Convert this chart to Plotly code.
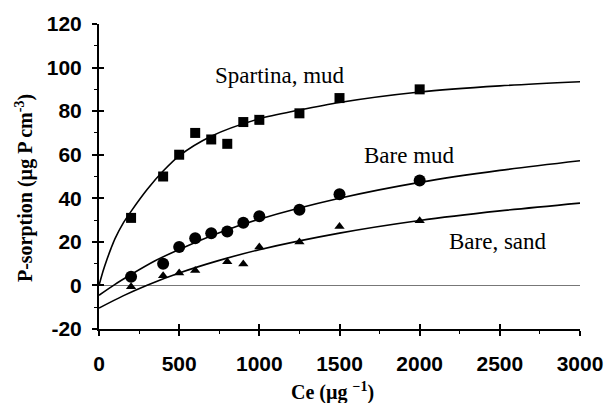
import plotly.graph_objects as go

# Measured points
ce_spartina = [200, 400, 500, 600, 700, 800, 900, 1000, 1250, 1500, 2000]
p_spartina = [31, 50, 60, 70, 67, 65, 75, 76, 79, 86, 90]

ce_baremud = [200, 400, 500, 600, 700, 800, 900, 1000, 1250, 1500, 2000]
p_baremud = [4, 10, 17.6, 21.7, 23.9, 24.8, 28.8, 31.8, 34.7, 41.9, 48.2]

ce_baresand = [200, 400, 500, 600, 800, 900, 1000, 1250, 1500, 2000]
p_baresand = [-0.6, 4.4, 5.7, 6.9, 10.9, 9.8, 17.6, 19.9, 27.1, 29.7]

# Fitted curves
fit_sp_x = [0, 25, 50, 75, 100, 150, 200, 300, 400, 500, 700, 1000, 1250, 1500, 2000, 2500, 3000]
fit_sp_y = [0, 6.5, 12, 17, 21.5, 28.5, 34, 44, 52.5, 59.5, 68.5, 76.5, 80.5, 84, 88.8, 91.6, 93.5]

fit_mud_x = [0, 100, 200, 350, 500, 750, 1000, 1500, 2000, 2500, 3000]
fit_mud_y = [-4.5, 0.5, 5.0, 11.3, 16.5, 24.2, 30.4, 40.0, 47.3, 52.8, 57.2]

fit_sand_x = [0, 150, 300, 500, 750, 1000, 1500, 2000, 2500, 3000]
fit_sand_y = [-10.4, -4.8, 0.1, 5.7, 11.5, 16.4, 24.0, 29.8, 34.2, 37.8]

# Tick labels
x_tickvals = [0, 500, 1000, 1500, 2000, 2500, 3000]
x_ticktext = ["0", "500", "1000", "1500", "2000", "2500", "3000"]
y_tickvals = [-20, 0, 20, 40, 60, 80, 100, 120]
y_ticktext = ["-20", "0", "20", "40", "60", "80", "100", "120"]

labels = ["Spartina, mud", "Bare mud", "Bare, sand"]
label_x = [1130, 1935, 2490]
label_y = [96.2, 59.7, 20.3]

x_range = [0, 3000]
y_range = [-20, 120]

fig = go.Figure()

line_style = dict(color="black", width=1.6, shape="spline", smoothing=0.8)
for fx, fy in [(fit_sp_x, fit_sp_y), (fit_mud_x, fit_mud_y), (fit_sand_x, fit_sand_y)]:
    fig.add_trace(go.Scatter(x=fx, y=fy, mode="lines", line=line_style,
                             showlegend=False, hoverinfo="skip"))

fig.add_trace(go.Scatter(x=ce_spartina, y=p_spartina, mode="markers",
                         marker=dict(symbol="square", size=10, color="black"),
                         showlegend=False))
fig.add_trace(go.Scatter(x=ce_baremud, y=p_baremud, mode="markers",
                         marker=dict(symbol="circle", size=12, color="black"),
                         showlegend=False))
fig.add_trace(go.Scatter(x=ce_baresand, y=p_baresand, mode="markers",
                         marker=dict(symbol="triangle-up", size=9, color="black"),
                         showlegend=False))

tick_font = dict(family="Liberation Sans", size=21, color="black", weight="bold")
serif = "Liberation Serif"

common_x = dict(range=x_range, tickvals=x_tickvals, ticktext=x_ticktext,
                showgrid=False, zeroline=False, showline=True,
                linecolor="black", linewidth=2, tickcolor="black",
                tickwidth=1.5, ticklen=5,
                minor=dict(dtick=250, tick0=0, ticklen=3, tickwidth=1.2,
                           tickcolor="black", showgrid=False))
common_y = dict(range=y_range, tickvals=y_tickvals, ticktext=y_ticktext,
                showgrid=False, showline=True,
                linecolor="black", linewidth=2, tickcolor="black",
                tickwidth=1.5, ticklen=5,
                minor=dict(dtick=10, tick0=0, ticklen=3, tickwidth=1.2,
                           tickcolor="black", showgrid=False))

fig.update_layout(
    width=615, height=403,
    margin=dict(l=99, r=29, t=24, b=74),
    paper_bgcolor="white", plot_bgcolor="white",
    xaxis=dict(**common_x, ticks="outside", tickfont=tick_font,
               ticklabelstandoff=10),
    yaxis=dict(**common_y, ticks="outside", tickfont=tick_font,
               zeroline=True, zerolinecolor="#777", zerolinewidth=1.3,
               ticklabelstandoff=6),
    xaxis2=dict(**common_x, ticks="inside", showticklabels=False,
                overlaying="x", anchor="y"),
    yaxis2=dict(**common_y, ticks="inside", showticklabels=False,
                zeroline=False, overlaying="y", anchor="x"),
)

for t, lx, ly in zip(labels, label_x, label_y):
    fig.add_annotation(x=lx, y=ly, xref="x", yref="y", text=t, showarrow=False,
                       font=dict(family=serif, size=23, color="black"),
                       xanchor="center", yanchor="middle")

fig.add_annotation(x=-0.156, y=0.462, xref="paper", yref="paper",
                   text="P-sorption (µg P cm<sup>-3</sup>)", textangle=-90,
                   showarrow=False, xanchor="center", yanchor="middle",
                   font=dict(family=serif, size=20, color="black", weight="bold"))
fig.add_annotation(x=0.485, y=-0.205, xref="paper", yref="paper",
                   text="Ce (µg <sup>−1</sup>)", showarrow=False,
                   xanchor="center", yanchor="middle",
                   font=dict(family=serif, size=20, color="black", weight="bold"))

# invisible trace so the overlay axes (crossing ticks) render
fig.add_trace(go.Scatter(x=[0], y=[0], xaxis="x2", yaxis="y2", mode="markers",
                         marker=dict(opacity=0), showlegend=False, hoverinfo="skip"))

fig.write_html("out.html")
